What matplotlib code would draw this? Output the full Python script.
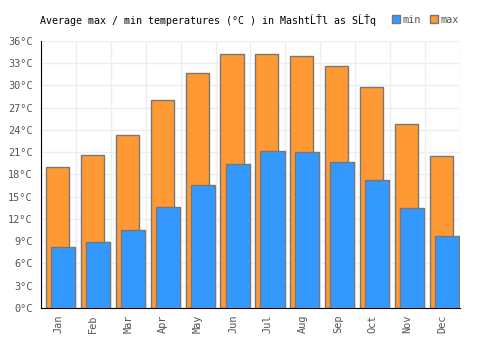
import matplotlib.pyplot as plt
import numpy as np
from matplotlib.patches import Patch

months = ['Jan', 'Feb', 'Mar', 'Apr', 'May', 'Jun', 'Jul', 'Aug', 'Sep', 'Oct', 'Nov', 'Dec']
t_max = [19.0, 20.6, 23.3, 28.0, 31.7, 34.2, 34.2, 34.0, 32.6, 29.8, 24.8, 20.5]
t_min = [8.2, 8.9, 10.5, 13.6, 16.6, 19.4, 21.2, 21.0, 19.7, 17.3, 13.5, 9.7]
y_ticks = list(range(0, 37, 3))

plt.rcParams['font.family'] = ['DejaVu Sans Mono']

fig = plt.figure(figsize=(5, 3.5), dpi=100)
ax = fig.add_axes([0.082, 0.12, 0.838, 0.763])

x = np.arange(len(months))
ax.bar(x - 0.03, t_max, width=0.66, color='#ff9933', edgecolor='#777777', linewidth=1, zorder=2)
ax.bar(x + 0.13, t_min, width=0.69, color='#3399ff', edgecolor='#777777', linewidth=1, zorder=3)

ax.set_xlim(-0.5, len(months) - 0.5)
ax.set_ylim(0, 36)
ax.set_yticks(y_ticks)
ax.set_yticklabels([f'{v}°C' for v in y_ticks])
ax.set_xticks(x)
ax.set_xticklabels(months, rotation=90)
ax.set_xticks(np.arange(-0.5, len(months)), minor=True)

ax.grid(True, axis='y', color='#eeeeee', linewidth=1, zorder=0)
ax.grid(True, axis='x', which='minor', color='#eeeeee', linewidth=1, zorder=0)
ax.set_axisbelow(True)
ax.tick_params(axis='both', which='both', length=0, labelsize=7.4, labelcolor='#555555')
ax.tick_params(axis='x', pad=5)
ax.tick_params(axis='y', pad=6)

for s in ['top', 'right']:
    ax.spines[s].set_visible(False)
ax.spines['left'].set_color('black')
ax.spines['bottom'].set_color('black')

fig.text(0.08, 1 - 20 / 350, 'Average max / min temperatures (°C ) in MashtĹŤl as SĹŤq',
         fontsize=7.2, va='center', ha='left', color='black')

handles = [Patch(facecolor='#3399ff', edgecolor='#777777'),
           Patch(facecolor='#ff9933', edgecolor='#777777')]
fig.legend(handles, ['min', 'max'], loc='center left', bbox_to_anchor=(0.774, 1 - 20 / 350),
           ncol=2, frameon=False, fontsize=7.4, handlelength=0.8, handleheight=0.8,
           handletextpad=0.2, columnspacing=0.9, labelcolor='#555555', borderpad=0)

fig.savefig('out.png', dpi=100)
